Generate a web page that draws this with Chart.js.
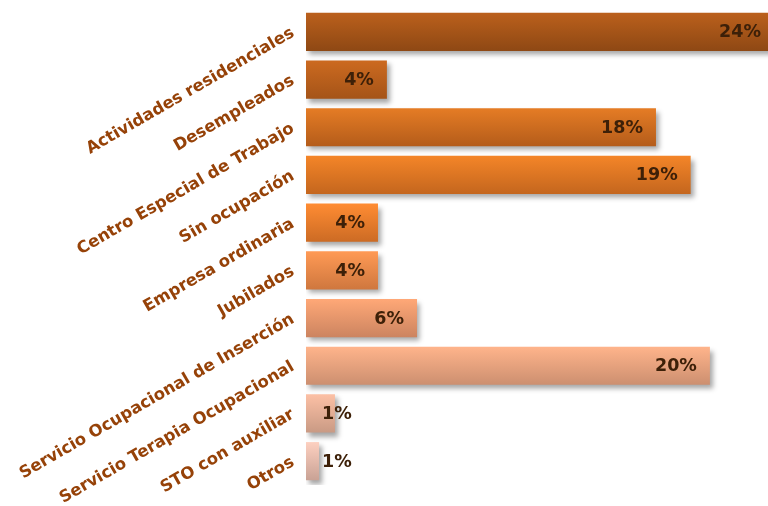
<!DOCTYPE html>
<html>
<head>
<meta charset="utf-8">
<script src="https://cdn.jsdelivr.net/npm/chart.js@4/dist/chart.umd.min.js"></script>
<style>
  html, body { margin: 0; padding: 0; background: #fff; }
  #wrap { width: 768px; height: 506px; }
</style>
</head>
<body>
<div id="wrap"><canvas id="chart"></canvas></div>
<script>
// data (percent)
const categories = [
  "Actividades residenciales", "Desempleados", "Centro Especial de Trabajo",
  "Sin ocupación", "Empresa ordinaria", "Jubilados",
  "Servicio Ocupacional de Inserción", "Servicio Terapia Ocupacional",
  "STO con auxiliar", "Otros"
];
const values = [23.6, 4.08, 17.65, 19.4, 3.63, 3.63, 5.6, 20.37, 1.46, 0.66];

// gradient top / bottom per bar
const topColors = ['#bb601c', '#cc6a20', '#e57c25', '#f48528', '#ff8c33',
                   '#ff9a55', '#ffa877', '#ffb48b', '#fcc0a5', '#fdd0c0'];
const bottomColors = ['#8e4814', '#a55418', '#b45c1a', '#c4661e', '#cc6b24',
                      '#cf773e', '#cc8460', '#cc8f70', '#c99a84', '#c9a295'];

const FONT = '"DejaVu Sans", Verdana, sans-serif';

function barGradient(context) {
  const chart = context.chart;
  const {ctx, chartArea} = chart;
  if (!chartArea || !chart.scales.y) return topColors[context.dataIndex];
  const yc = chart.scales.y.getPixelForValue(context.dataIndex);
  const g = ctx.createLinearGradient(0, yc - 19, 0, yc + 19);
  g.addColorStop(0, topColors[context.dataIndex]);
  g.addColorStop(1, bottomColors[context.dataIndex]);
  return g;
}

// drop shadow under the bars
const barShadow = {
  id: 'barShadow',
  beforeDatasetDraw(chart) {
    const ctx = chart.ctx;
    ctx.save();
    ctx.shadowColor = 'rgba(0,0,0,0.35)';
    ctx.shadowBlur = 5;
    ctx.shadowOffsetX = 3;
    ctx.shadowOffsetY = 4;
  },
  afterDatasetDraw(chart) {
    chart.ctx.restore();
  }
};

// value labels at the inner end of each bar
const valueLabels = {
  id: 'valueLabels',
  afterDatasetsDraw(chart) {
    const ctx = chart.ctx;
    const meta = chart.getDatasetMeta(0);
    ctx.save();
    ctx.font = 'bold 17.5px ' + FONT;
    ctx.fillStyle = '#3d2008';
    ctx.textBaseline = 'middle';
    ctx.textAlign = 'left';
    meta.data.forEach((bar, i) => {
      const txt = Math.round(values[i]) + '%';
      const w = ctx.measureText(txt).width;
      const left = Math.max(bar.x - 13 - w, bar.base + 16);
      ctx.fillText(txt, left, bar.y + 1);
    });
    ctx.restore();
  }
};

new Chart(document.getElementById('chart'), {
  type: 'bar',
  data: {
    labels: categories,
    datasets: [{
      data: values,
      backgroundColor: barGradient,
      borderWidth: 0,
      categoryPercentage: 1,
      barPercentage: 0.8
    }]
  },
  options: {
    indexAxis: 'y',
    responsive: true,
    maintainAspectRatio: false,
    animation: false,
    layout: { padding: { top: 8, bottom: 21, left: 0, right: 0 } },
    plugins: {
      legend: { display: false },
      tooltip: { enabled: false }
    },
    scales: {
      x: {
        display: false,
        min: 0,
        max: 23.3
      },
      y: {
        grid: { display: false, drawTicks: false },
        border: { display: false },
        ticks: {
          minRotation: 30,
          maxRotation: 30,
          padding: 13,
          color: '#964208',
          font: { family: FONT, size: 16.5, weight: 'bold' }
        },
        afterFit(scale) {
          scale.width = 306;
          scale.paddingTop = 0;
          scale.paddingBottom = 0;
        }
      }
    }
  },
  plugins: [barShadow, valueLabels]
});
</script>
</body>
</html>
